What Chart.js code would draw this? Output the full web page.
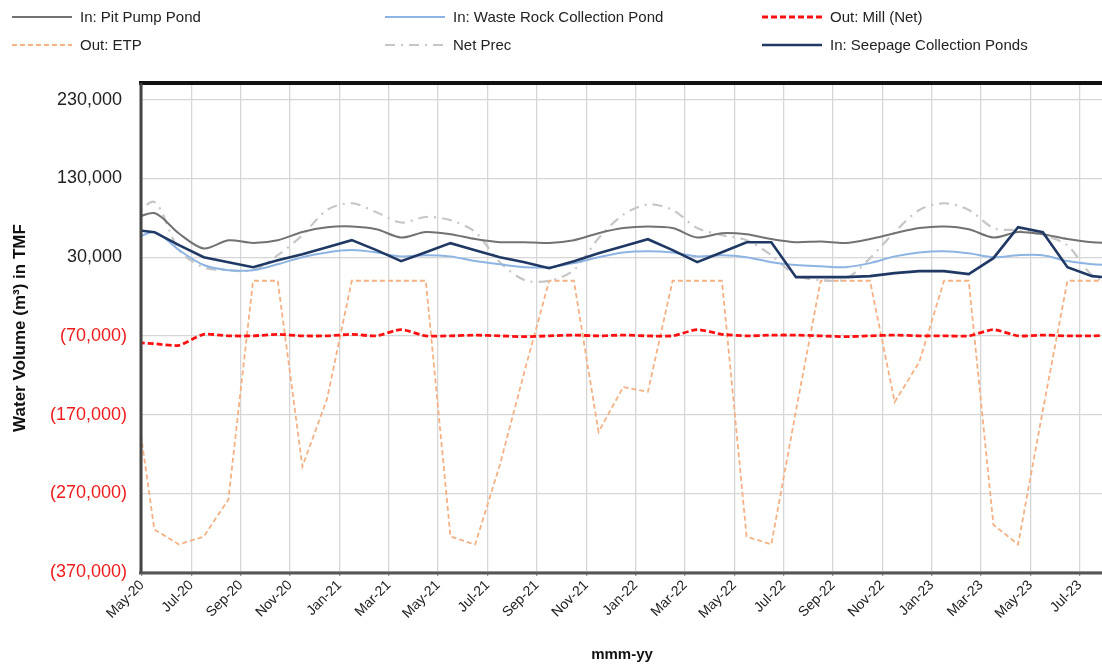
<!DOCTYPE html>
<html>
<head>
<meta charset="utf-8">
<script src="https://cdn.jsdelivr.net/npm/chart.js@4.4.1/dist/chart.umd.min.js"></script>
<style>
html, body { margin: 0; padding: 0; background: #fff; overflow: hidden; }
#wrap { width: 1102px; height: 665px; position: relative; }
</style>
</head>
<body>
<div id="wrap"><canvas id="chart"></canvas></div>
<script>
// one value per month, mid-month; Apr-20 sits left of the axis and is clipped
const months = ['Apr-20','May-20','Jun-20','Jul-20','Aug-20','Sep-20','Oct-20','Nov-20','Dec-20',
  'Jan-21','Feb-21','Mar-21','Apr-21','May-21','Jun-21','Jul-21','Aug-21','Sep-21','Oct-21','Nov-21','Dec-21',
  'Jan-22','Feb-22','Mar-22','Apr-22','May-22','Jun-22','Jul-22','Aug-22','Sep-22','Oct-22','Nov-22','Dec-22',
  'Jan-23','Feb-23','Mar-23','Apr-23','May-23','Jun-23','Jul-23','Aug-23'];

const pitPump = [76000, 86000, 60000, 41000, 51500, 48000, 51500, 62000, 68000, 69000, 65500,
  55000, 62000, 59000, 53000, 49000, 49000, 48000, 51500, 60500, 67000,
  69000, 67000, 55000, 60500, 59000, 53000, 49000, 50000, 48000, 53000, 60500, 67000,
  69000, 65500, 55000, 62000, 59000, 53000, 49000, 48000];

const wasteRock = [49000, 62000, 39000, 20000, 13500, 13500, 21000, 30000, 36000, 39000, 36000,
  31000, 32500, 31000, 25000, 21000, 17300, 17300, 22400, 30000, 36000,
  37600, 36000, 31000, 32500, 30000, 23600, 20000, 18500, 17300, 22400, 31000, 36000,
  37600, 35000, 30000, 32500, 32500, 25000, 21000, 20000];

const millNet = [-78000, -80000, -82000, -68000, -70000, -70000, -68000, -70000, -70000, -68000, -70000,
  -62000, -70000, -70000, -69000, -70000, -71000, -70000, -69000, -70000, -69000,
  -70000, -70000, -62000, -68000, -70000, -69000, -69000, -70000, -71000, -70000, -69000, -70000,
  -70000, -70000, -62000, -70000, -69000, -70000, -70000, -69000];

const etp = [-95000, -316000, -335000, -325000, -278000, 0, 0, -236000, -150000, 0, 0,
  0, 0, -325000, -335000, -234000, -115000, 0, 0, -192000, -135000,
  -141000, 0, 0, 0, -325000, -335000, -165000, 0, 0, 0, -154000, -103000,
  0, 0, -310000, -335000, -165000, 0, 0, 0];

const netPrec = [75000, 100000, 39000, 17000, 13500, 13500, 32500, 58000, 90000, 98500, 87000,
  74000, 81000, 77000, 62000, 23600, 800, 0, 13500, 54000, 84000,
  97000, 90000, 67000, 58000, 51600, 32500, 7000, 800, 2000, 28700, 62000, 90000,
  98500, 90000, 67000, 64000, 58000, 45000, 7000, -5000];

const seepage = [65500, 61700, 45200, 30000, 23600, 17300, 26200, 33800, 42700, 51600, 38900,
  24900, 36300, 47800, 38900, 30000, 23600, 16000, 24900, 35100, 44000,
  52800, 38900, 23600, 36300, 49000, 49000, 4600, 4600, 4600, 5900, 9700, 12200,
  12200, 8400, 28700, 68000, 61700, 17300, 5900, 3300];

const yTicks = [230000, 130000, 30000, -70000, -170000, -270000, -370000];

const FONT = 'Liberation Sans, Arial, sans-serif';

// x is months after 1 May 2020, point placed mid-month
function pts(arr) {
  return arr.map((v, k) => ({ x: k - 0.5, y: v }));
}

function fmt(v) {
  const s = Math.abs(v).toLocaleString('en-US');
  return v < 0 ? '(' + s + ')' : s + ' ';
}

const legendPos = [[12, 17], [385, 17], [762, 17], [12, 45], [385, 45], [762, 45]];

const legendPlugin = {
  id: 'gridLegend',
  afterDraw(chart) {
    const ctx = chart.ctx;
    chart.data.datasets.forEach((ds, i) => {
      const [x, y] = legendPos[i];
      ctx.save();
      ctx.strokeStyle = ds.borderColor;
      ctx.lineWidth = ds.borderWidth;
      ctx.setLineDash(ds.borderDash || []);
      ctx.beginPath();
      ctx.moveTo(x, y);
      ctx.lineTo(x + 60, y);
      ctx.stroke();
      ctx.setLineDash([]);
      ctx.fillStyle = '#222';
      ctx.font = '15px ' + FONT;
      ctx.textBaseline = 'middle';
      ctx.fillText(ds.label, x + 68, y + 1);
      ctx.restore();
    });
  }
};

const framePlugin = {
  id: 'frame',
  afterDraw(chart) {
    const { ctx, chartArea: a } = chart;
    ctx.save();
    ctx.lineCap = 'butt';
    ctx.strokeStyle = '#111';
    ctx.lineWidth = 4;
    ctx.beginPath();
    ctx.moveTo(a.left - 3, a.top - 1);
    ctx.lineTo(a.right + 2, a.top - 1);
    ctx.stroke();
    ctx.strokeStyle = '#444';
    ctx.lineWidth = 3;
    ctx.beginPath();
    ctx.moveTo(a.left - 1, a.top - 1);
    ctx.lineTo(a.left - 1, a.bottom + 1);
    ctx.stroke();
    ctx.strokeStyle = '#555';
    ctx.beginPath();
    ctx.moveTo(a.left - 3, a.bottom + 1);
    ctx.lineTo(a.right + 2, a.bottom + 1);
    ctx.stroke();
    ctx.restore();
  }
};

new Chart(document.getElementById('chart'), {
  type: 'line',
  data: {
    datasets: [
      { label: 'In: Pit Pump Pond', data: pts(pitPump), borderColor: '#727272', borderWidth: 2, tension: 0.3, order: 3 },
      { label: 'In: Waste Rock Collection Pond', data: pts(wasteRock), borderColor: '#8db4e2', borderWidth: 2, tension: 0.3, order: 4 },
      { label: 'Out: Mill (Net)', data: pts(millNet), borderColor: '#ff1010', borderWidth: 2.8, borderDash: [6, 3], tension: 0.2, order: 2 },
      { label: 'Out: ETP', data: pts(etp), borderColor: '#f4b183', borderWidth: 1.8, borderDash: [5, 3], order: 6 },
      { label: 'Net Prec', data: pts(netPrec), borderColor: '#c6c6c6', borderWidth: 2.2, borderDash: [10, 6, 2, 6], tension: 0.3, order: 5 },
      { label: 'In: Seepage Collection Ponds', data: pts(seepage), borderColor: '#1f3864', borderWidth: 2.6, order: 1 }
    ]
  },
  options: {
    responsive: true,
    maintainAspectRatio: false,
    animation: false,
    layout: { padding: { top: 84, left: 0, right: 0, bottom: 0 } },
    elements: { point: { radius: 0 } },
    plugins: {
      legend: { display: false },
      tooltip: { enabled: false }
    },
    scales: {
      x: {
        type: 'linear',
        min: 0,
        max: 38.9,
        border: { display: false },
        grid: { color: '#d6d6d6', lineWidth: 1.3, tickLength: 4, tickColor: '#999' },
        ticks: {
          stepSize: 2,
          includeBounds: false,
          autoSkip: false,
          minRotation: 45,
          maxRotation: 45,
          padding: 1,
          color: '#222',
          font: { family: FONT, size: 14 },
          callback: v => months[v + 1]
        },
        title: {
          display: true,
          text: 'mmm-yy',
          color: '#111',
          font: { family: FONT, size: 15, weight: 'bold' },
          padding: { top: 2, bottom: 1 }
        },
        afterFit: s => { s.height = 93; s.paddingLeft = 0; s.paddingRight = 0; }
      },
      y: {
        min: -370000,
        max: 250000,
        border: { display: false },
        grid: { color: '#d6d6d6', lineWidth: 1.3, drawTicks: false },
        afterBuildTicks: s => { s.ticks = yTicks.map(v => ({ value: v })); },
        ticks: {
          padding: 15,
          font: { family: FONT, size: 18 },
          color: c => (c.tick && c.tick.value < 0 ? '#ee1c1c' : '#222'),
          callback: v => fmt(v)
        },
        title: {
          display: true,
          text: 'Water Volume (m\u00b3) in TMF',
          color: '#111',
          font: { family: FONT, size: 17, weight: 'bold' },
          padding: { top: 10, bottom: 0 }
        },
        afterFit: s => { s.width = 142; }
      }
    }
  },
  plugins: [legendPlugin, framePlugin]
});
</script>
</body>
</html>
